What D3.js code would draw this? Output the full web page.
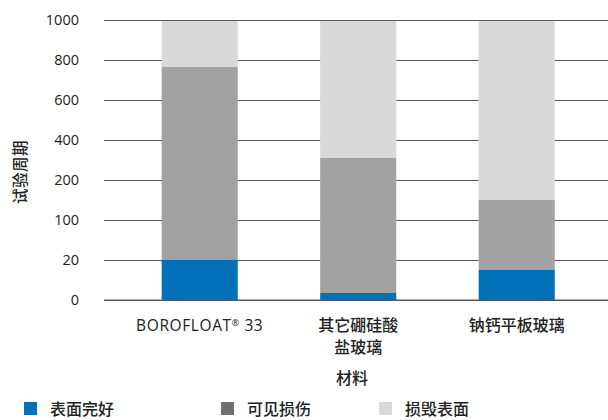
<!DOCTYPE html>
<html>
<head>
<meta charset="utf-8">
<script src="https://cdn.jsdelivr.net/npm/d3@7"></script>
<style>
body { margin:0; background:#fff; }
text { font-family: "Noto Sans CJK SC", "Open Sans", sans-serif; fill:#222; font-weight:500; }
</style>
</head>
<body>
<svg width="608" height="420"></svg>
<script>
// materials on the x axis
var categories = ["BOROFLOAT® 33", "其它硼硅酸盐玻璃", "钠钙平板玻璃"];
var categoryLines = [["BOROFLOAT® 33"], ["其它硼硅酸", "盐玻璃"], ["钠钙平板玻璃"]];
// cumulative tops of each stacked part (test cycles)
var intact = [20, 3.5, 15];
var visible = [765, 310, 150];
var destroyed = [1000, 1000, 1000];
// the axis is not linear, each tick gets an equal step
var yTicks = [0, 20, 100, 200, 400, 600, 800, 1000];
var seriesNames = ["表面完好", "可见损伤", "损毁表面"];

var colors = {bar: ["#0071b8", "#a2a2a2", "#d9d9d9"], legend: ["#0071b8", "#707070", "#d9d9d9"]};

var svg = d3.select("svg");

var yScale = d3.scaleLinear()
    .domain(yTicks)
    .range(yTicks.map(function(d, i) { return 300 - i * 40; }));

var xScale = d3.scaleBand()
    .domain(categories)
    .range([104, 608])
    .paddingInner(0.52)
    .paddingOuter(0.35)
    .align(0.52);

// grid lines
var yAxis = d3.axisLeft(yScale)
    .tickValues(yTicks)
    .tickSize(-504)
    .tickPadding(25)
    .tickFormat(d3.format("d"));

var gAxis = svg.append("g")
    .attr("transform", "translate(104,0)")
    .call(yAxis);
gAxis.select(".domain").remove();
gAxis.selectAll("line").attr("stroke", "#5a5a5a").attr("stroke-width", 1.2);
gAxis.selectAll("text").style("font-size", "14.5px").attr("fill", "#222")
    .style("font-family", "'Open Sans', sans-serif").style("font-weight", "400");

// stacked parts
var stacks = categories.map(function(c, i) {
    return [
        {cat:c, lo:0, hi:intact[i], k:0},
        {cat:c, lo:intact[i], hi:visible[i], k:1},
        {cat:c, lo:visible[i], hi:destroyed[i], k:2}
    ];
});
var parts = [].concat.apply([], stacks);

svg.append("g").selectAll("rect")
    .data(parts)
    .enter()
    .append("rect")
    .attr("x", function(d) { return xScale(d.cat); })
    .attr("width", xScale.bandwidth())
    .attr("y", function(d) { return yScale(d.hi) + (d.k == 2 ? 1 : 0); })
    .attr("height", function(d) { return yScale(d.lo) - yScale(d.hi) - (d.k == 2 ? 1 : 0); })
    .attr("fill", function(d) { return colors.bar[d.k]; });

// baseline over the bars
svg.append("line")
    .attr("x1", 104).attr("x2", 608)
    .attr("y1", yScale(0)).attr("y2", yScale(0))
    .attr("stroke", "#5a5a5a").attr("stroke-width", 1.2);

// category labels
var labels = svg.append("g").selectAll("text")
    .data(categories)
    .enter()
    .append("text")
    .attr("text-anchor", "middle")
    .attr("x", function(d) { return xScale(d) + xScale.bandwidth() / 2; })
    .attr("y", 331)
    .style("font-size", "16px");
labels.each(function(d, i) {
    var t = d3.select(this);
    var cx = xScale(d) + xScale.bandwidth() / 2;
    categoryLines[i].forEach(function(line, j) {
        var bits = line.split("®");
        if (bits.length == 2) {
            // registered mark as a small superscript
            t.append("tspan").attr("x", cx).text(bits[0]);
            t.append("tspan").attr("dy", -5).style("font-size", "9px").text("®");
            t.append("tspan").attr("dy", 5).text(bits[1]);
        } else {
            t.append("tspan")
                .attr("x", cx)
                .attr("dy", j == 0 ? 0 : 22)
                .text(line);
        }
    });
});
labels.filter(function(d, i) { return i == 0; })
    .style("font-family", "'Open Sans', sans-serif").style("font-weight", "400")
    .style("letter-spacing", "0.6px").style("font-size", "15.5px");

svg.append("text")
    .text("材料")
    .attr("text-anchor", "middle")
    .attr("x", 352)
    .attr("y", 384)
    .style("font-size", "16px");

svg.append("g")
    .attr("transform", "translate(26,172)")
    .append("text")
    .text("试验周期")
    .attr("text-anchor", "middle")
    .attr("transform", "rotate(270)")
    .style("font-size", "15.5px")
    .style("letter-spacing", "0.5px");

// legend
var legendX = [24, 221, 379];
var entries = svg.append("g").selectAll("g")
    .data(seriesNames)
    .enter()
    .append("g")
    .attr("transform", function(d, i) { return "translate(" + legendX[i] + ",402)"; });
entries.append("rect")
    .attr("width", 13)
    .attr("height", 13)
    .attr("fill", function(d, i) { return colors.legend[i]; });
entries.append("text")
    .text(function(d) { return d; })
    .attr("x", 26)
    .attr("y", 13)
    .style("font-size", "16px");
</script>
</body>
</html>
